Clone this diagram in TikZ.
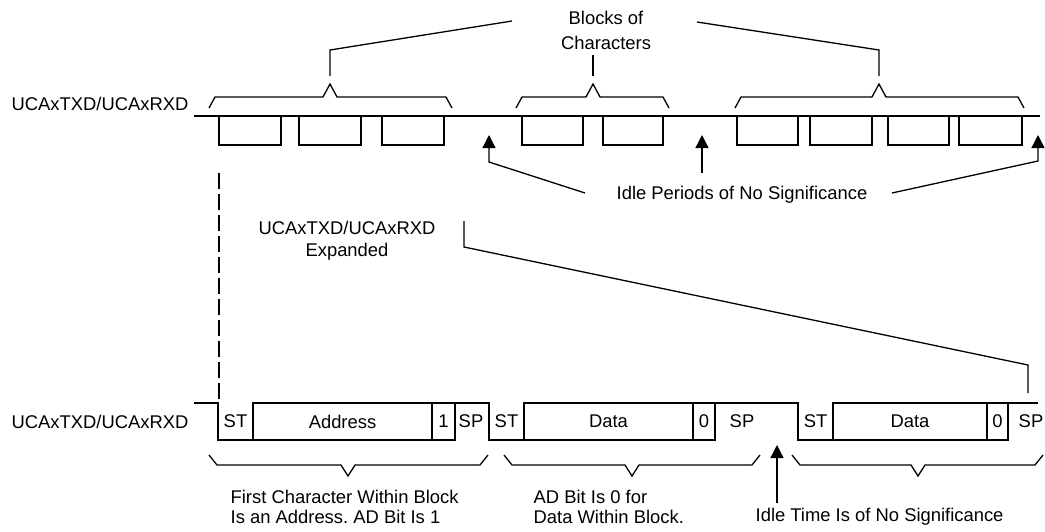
\documentclass[tikz,border=0pt]{standalone}
\usepackage{fontspec}
\setmainfont{Liberation Sans}
\usetikzlibrary{arrows.meta}
\usetikzlibrary{positioning}
\frenchspacing

\begin{document}
\begin{tikzpicture}[
    x=0.5pt, y=-0.5pt,
    line width=0.65pt,
    txt/.style={inner sep=0pt, font=\fontsize{9.2}{11}\selectfont},
    bit/.style={inner sep=0pt, font=\fontsize{9.2}{11}\selectfont},
    >={Triangle[length=6.5pt, width=6.5pt]}
]
\useasboundingbox (0,0) rectangle (1045,531);

% --- Labels ---
\node[txt, anchor=west] (line1) at (11,104) {UCAxTXD/UCAxRXD};
\node[txt, anchor=west] (line2) at (11,422) {UCAxTXD/UCAxRXD};
\node[txt, align=center, font=\fontsize{9.2}{12.5}\selectfont] (blocks) at (606,30) {Blocks of\\Characters};
\node[txt] (idle) at (742,195) {Idle Periods of No Significance};
\node[txt, align=center] (expand) at (347,241) {UCAxTXD/UCAxRXD\\Expanded};
\node[txt, align=left, anchor=west, font=\fontsize{9.2}{10}\selectfont] (first) at (230,507) {First Character Within Block\\Is an Address. AD Bit Is 1};
\node[txt, align=left, anchor=west, font=\fontsize{9.2}{10}\selectfont] (adbit) at (533,507) {AD Bit Is 0 for\\Data Within Block.};
\node[txt, anchor=west] (idletime) at (755,517) {Idle Time Is of No Significance};

% --- Upper line with blocks of characters ---
\draw (194,116) -- (1040,116);
\foreach \l/\r in {219/281, 299/361, 382/444, 522/583, 603/663, 737/798, 810/872, 888/949, 959/1022}
    \draw (\l,116) rectangle (\r,145);

% --- Upper braces ---
\foreach \a/\p/\b in {209/330/452, 516/593/669, 735/879/1024}
    \draw (\a,108) -- ({\a+6},97) -- ({\p-7},97) -- (\p,84) -- ({\p+7},97) -- ({\b-6},97) -- (\b,108);

\coordinate (blk1) at (330,76);
\coordinate (blk2) at (593,76);
\coordinate (blk3) at (879,76);
\coordinate (blkL) at (512,21);
\coordinate (blkR) at (697,22);
\draw (blk1) -- (330,50) -- (blkL);
\draw (blk2) -- (593,55);
\draw (blk3) -- (879,50) -- (blkR);

% --- Idle arrows ---
\coordinate (tipL) at (489,135);
\coordinate (tipM) at (702,135);
\coordinate (tipR) at (1038,135);
\coordinate (idleL) at (585,193);
\coordinate (idleR) at (892,193);
\draw[->] (idleL) -- (489,162) -- (tipL);
\draw[->] (702,173) -- (tipM);
\draw[->] (idleR) -- (1038,161) -- (tipR);

% --- Expansion lines ---
\draw[dash pattern=on 8pt off 2.5pt] (219,173) -- (219,403);
\draw (464,221) -- (464,247) -- (1028,365) -- (1028,393);

% --- Expanded characters ---
\draw (194,403) -- (218,403) -- (218,440) -- (253,440);
\draw (253,403) rectangle (432,440) node[bit, midway] (addr) {Address};
\draw (432,403) rectangle (455,440) node[bit, midway] (ad1) {1};
\draw (455,403) -- (489,403) -- (489,440) -- (524,440);
\draw (524,403) rectangle (693,440) node[bit, midway] (data1) {Data};
\draw (693,403) rectangle (715,440) node[bit, midway] (ad2) {0};
\draw (715,403) -- (798,403) -- (798,440) -- (833,440);
\draw (833,403) rectangle (987,440) node[bit, midway] (data2) {Data};
\draw (987,403) rectangle (1008,440) node[bit, midway] (ad3) {0};
\draw (1008,403) -- (1038,403);

\node[bit] (st1) at (235.5,421.5) {ST};
\node[bit] (sp1) at (471,421.5) {SP};
\node[bit] (st2) at (506.5,421.5) {ST};
\node[bit] (sp2) at (742,421.5) {SP};
\node[bit] (st3) at (815.5,421.5) {ST};
\node[bit] (sp3) at (1031,421.5) {SP};

% --- Lower braces ---
\foreach \a/\p/\b in {209/348/488, 504/632/760, 792/918/1043}
    \draw (\a,455) -- ({\a+8},465) -- ({\p-7},465) -- (\p,476) -- ({\p+7},465) -- ({\b-8},465) -- (\b,455);

% --- Idle time arrow ---
\coordinate (tipB) at (777,445);
\draw[->] (777,503) -- (tipB);

\end{tikzpicture}
\end{document}
